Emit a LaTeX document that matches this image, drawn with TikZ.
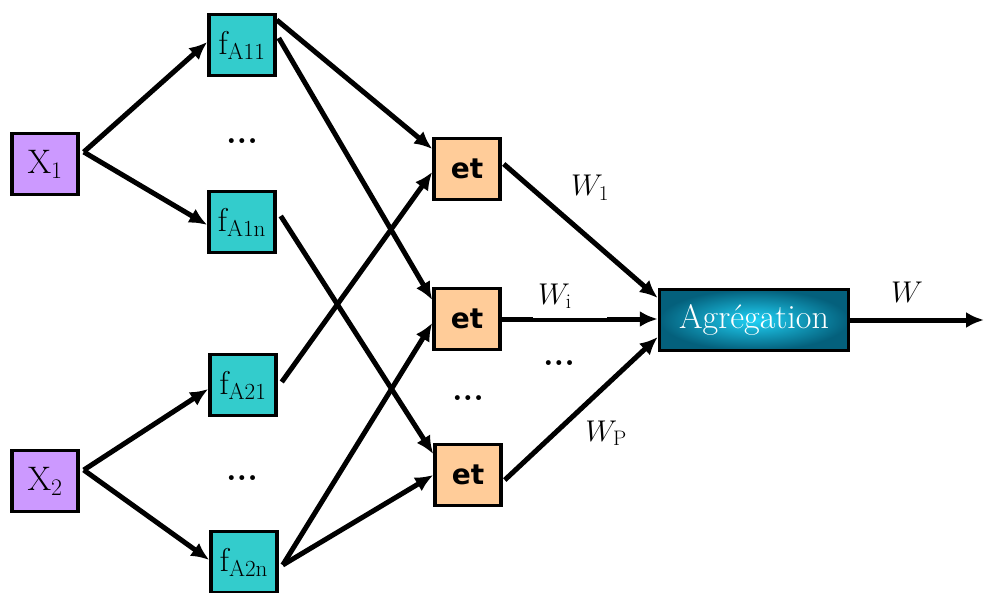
\RequirePackage{fix-cm}
\documentclass[tikz,border=0pt]{standalone}
\usepackage{fontspec}
\newfontfamily\etfont{DejaVu Sans}
\usetikzlibrary{arrows.meta}
\definecolor{xpurple}{HTML}{CC99FF}
\definecolor{fteal}{HTML}{33CCCC}
\definecolor{etpeach}{HTML}{FFCC99}
\definecolor{agout}{HTML}{04607C}
\definecolor{agin}{HTML}{20D2F6}
\tikzset{
 box/.style={draw=black, line width=3.5pt, minimum width=66pt, minimum height=61pt, inner sep=0pt},
 xbox/.style={box, fill=xpurple, font=\fontsize{34}{36}\selectfont},
 fbox/.style={box, fill=fteal, font=\fontsize{33}{35}\selectfont},
 etbox/.style={box, fill=etpeach, font=\fontsize{28}{30}\selectfont\etfont\bfseries},
 aggbox/.style={draw=black, line width=3.5pt, minimum width=189pt, minimum height=61pt, inner sep=0pt,
   inner color=agin, outer color=agout, text=white, font=\fontsize{34}{36}\selectfont},
 arr/.style={line width=5pt, -{Latex[length=18pt,width=16pt]}},
 wlab/.style={font=\fontsize{30}{32}\selectfont, inner sep=0pt},
 dotsl/.style={font=\fontsize{34}{36}\selectfont\bfseries, inner sep=0pt},
}
\begin{document}
\begin{tikzpicture}[x=1pt,y=-1pt]
\useasboundingbox (0,0) rectangle (984,593);
% nodes
\node[xbox] (X1) at (45,164) {$\mathrm{X}_1$};
\node[xbox] (X2) at (45,481) {$\mathrm{X}_2$};
\node[fbox] (fA11) at (242,45) {$\mathrm{f}_{\mathrm{A11}}$};
\node[fbox] (fA1n) at (242,222) {$\mathrm{f}_{\mathrm{A1n}}$};
\node[fbox] (fA21) at (243,385) {$\mathrm{f}_{\mathrm{A21}}$};
\node[fbox] (fA2n) at (244,562) {$\mathrm{f}_{\mathrm{A2n}}$};
\node[etbox] (et1) at (467,169) {et};
\node[etbox] (et2) at (467,319) {et};
\node[etbox] (et3) at (468,475) {et};
\node[aggbox] (agg) at (754,320) {Agrégation};
\coordinate (out) at (984,320);
% dots
\node[dotsl] (d1) at (242,141) {...};
\node[dotsl] (d2) at (242,478) {...};
\node[dotsl] (d3) at (468,398) {...};
\node[dotsl] (d4) at (559,363) {...};
% arrows X -> f
\draw[arr] ([xshift=4pt,yshift=12pt]X1.east) -- ([yshift=3pt]fA11.west);
\draw[arr] ([xshift=4pt,yshift=12pt]X1.east) -- ([yshift=-3pt]fA1n.west);
\draw[arr] ([xshift=4pt,yshift=11pt]X2.east) -- ([yshift=-4pt]fA21.west);
\draw[arr] ([xshift=4pt,yshift=11pt]X2.east) -- ([yshift=2pt]fA2n.west);
% arrows f -> et
\draw[arr] ([xshift=0pt,yshift=25pt]fA11.east) -- ([yshift=20pt]et1.west);
\draw[arr] ([xshift=2pt,yshift=7pt]fA11.east) -- ([yshift=19pt]et2.west);
\draw[arr] ([xshift=4pt,yshift=6pt]fA1n.east) -- ([yshift=21pt]et3.west);
\draw[arr] ([xshift=4pt,yshift=3pt]fA21.east) -- ([yshift=-3pt]et1.west);
\draw[arr] ([xshift=4pt,yshift=-3pt]fA2n.east) -- ([yshift=-4pt]et2.west);
\draw[arr] ([xshift=4pt,yshift=-3pt]fA2n.east) -- ([yshift=0pt]et3.west);
% et -> agg
\draw[arr] ([xshift=2pt,yshift=5pt]et1.east) -- ([yshift=22pt]agg.west);
\draw[arr] (et2.east) -- ([yshift=1pt]agg.west);
\draw[arr] ([xshift=2pt,yshift=-5pt]et3.east) -- ([yshift=-17pt]agg.west);
\draw[arr] (agg.east) -- (out);
% labels
\node[wlab] (w1) at (590,188) {$W_1$};
\node[wlab, fill=white, anchor=south west, inner xsep=5pt, text width=64pt, text depth=14pt] (wi) at (533,318.5) {$W_{\mathrm{i}}$};
\node[wlab] (wp) at (606,433) {$W_{\mathrm{P}}$};
\node[wlab] (w) at (907,292) {$W$};
\end{tikzpicture}
\end{document}
